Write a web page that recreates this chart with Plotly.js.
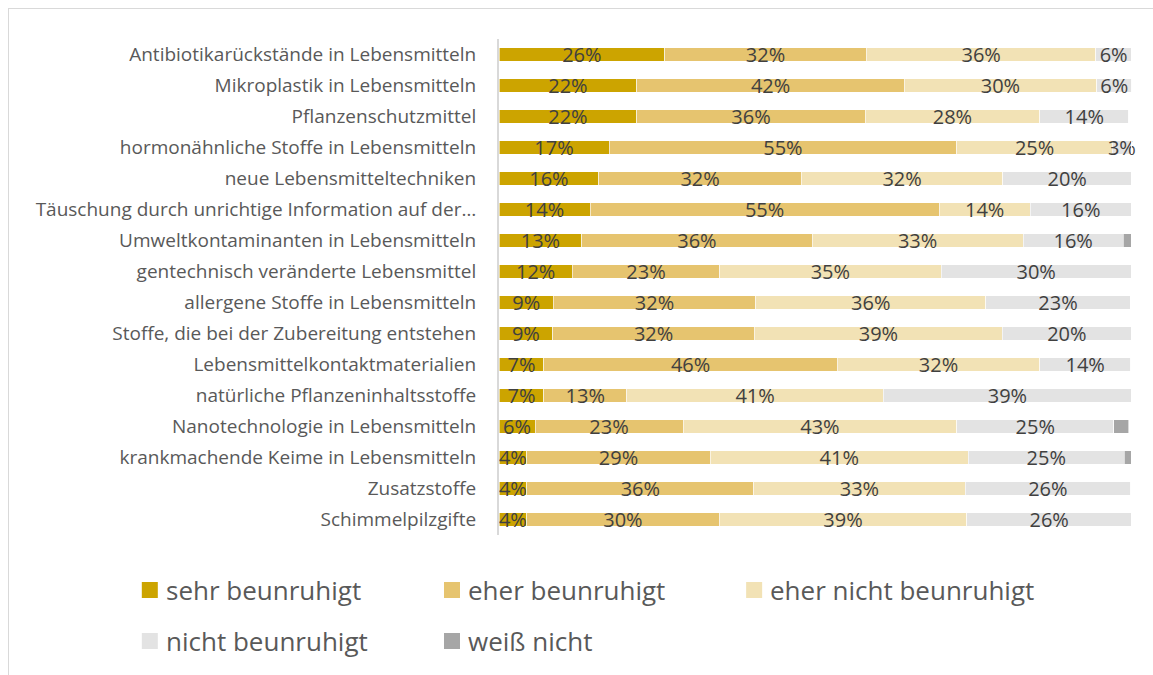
<!DOCTYPE html>
<html>
<head>
<meta charset="utf-8">
<script src="https://cdn.plot.ly/plotly-3.0.1.min.js"></script>
<style>
  html, body { margin: 0; padding: 0; background: #ffffff; overflow: hidden; }
  #frame { position: absolute; left: 8px; top: 8px; width: 1200px; height: 720px; border: 1px solid #d9d9d9; box-sizing: border-box; }
  #chart { position: absolute; left: 0; top: 0; width: 1153px; height: 675px; }
</style>
</head>
<body>
<div id="frame"></div>
<div id="chart"></div>
<script>
// Categories (top to bottom)
const categories = [
  "Antibiotikarückstände in Lebensmitteln",
  "Mikroplastik in Lebensmitteln",
  "Pflanzenschutzmittel",
  "hormonähnliche Stoffe in Lebensmitteln",
  "neue Lebensmitteltechniken",
  "Täuschung durch unrichtige Information auf der…",
  "Umweltkontaminanten in Lebensmitteln",
  "gentechnisch veränderte Lebensmittel",
  "allergene Stoffe in Lebensmitteln",
  "Stoffe, die bei der Zubereitung entstehen",
  "Lebensmittelkontaktmaterialien",
  "natürliche Pflanzeninhaltsstoffe",
  "Nanotechnologie in Lebensmitteln",
  "krankmachende Keime in Lebensmitteln",
  "Zusatzstoffe",
  "Schimmelpilzgifte"
];

// Series values (percent)
const sehrBeunruhigt      = [26.2, 21.8, 21.8, 17.4, 15.8, 14.4, 13.1, 11.6, 8.6, 8.5, 7.1, 7.1, 5.7, 4.4, 4.4, 4.4];
const eherBeunruhigt      = [31.9, 42.3, 36.1, 55.0, 32.0, 55.2, 36.4, 23.3, 32.0, 31.9, 46.4, 13.1, 23.4, 29.0, 35.9, 30.4];
const eherNichtBeunruhigt = [36.3, 30.4, 27.6, 24.6, 31.9, 14.4, 33.4, 35.0, 36.4, 39.2, 32.0, 40.6, 43.3, 40.8, 33.4, 39.2];
const nichtBeunruhigt     = [5.6, 5.6, 14.1, 3.0, 20.3, 16.0, 15.8, 30.1, 22.8, 20.4, 14.4, 39.2, 24.8, 24.7, 26.2, 26.0];
const weissNicht          = [0, 0, 0, 0, 0, 0, 1.3, 0, 0, 0, 0, 0, 2.4, 1.1, 0, 0];

const seriesNames  = ["sehr beunruhigt", "eher beunruhigt", "eher nicht beunruhigt", "nicht beunruhigt", "weiß nicht"];
const seriesValues = [sehrBeunruhigt, eherBeunruhigt, eherNichtBeunruhigt, nichtBeunruhigt, weissNicht];
const seriesColors = ["#CCA400", "#E6C46F", "#F2E2B5", "#E3E3E3", "#A6A6A6"];
const showLabels   = [true, true, true, true, false];

const W = 1153, H = 675;
const XMAX = 102;               // axis range a bit beyond 100 so full bars stay in range
const L = 499, T = 39, B = 140;
const pw100 = 632;              // pixels covered by 100 %
const pw = pw100 * XMAX / 100;
const R = W - L - pw;
const ph = H - T - B;
const px2x = p => (p - L) / pw;
const py2y = p => (H - B - p) / ph;

const traces = seriesNames.map((name, i) => ({
  type: 'bar',
  orientation: 'h',
  name: name,
  x: seriesValues[i],
  y: categories,
  marker: { color: seriesColors[i], line: { color: '#ffffff', width: 0.6 } },
  text: showLabels[i] ? seriesValues[i].map(v => Math.round(v) + '%') : undefined,
  texttemplate: showLabels[i] ? '%{text}' : undefined,
  textinfo: showLabels[i] ? undefined : 'none',
  textposition: showLabels[i] ? 'inside' : 'none',
  insidetextanchor: 'middle',
  constraintext: 'none',
  cliponaxis: false,
  textfont: { family: 'Open Sans, sans-serif', size: 20, color: '#404040' },
  hoverinfo: 'skip',
  showlegend: false
}));

// Custom legend (two rows, three columns)
const legCols = [142, 444, 746];
const legRows = [590, 641];
const shapes = [];
const annotations = [];
seriesNames.forEach((name, i) => {
  const cx = legCols[i % 3];
  const cy = legRows[Math.floor(i / 3)];
  shapes.push({
    type: 'rect', xref: 'paper', yref: 'paper',
    x0: px2x(cx), x1: px2x(cx + 16),
    y0: py2y(cy + 8), y1: py2y(cy - 8),
    fillcolor: seriesColors[i], line: { width: 0 }
  });
  annotations.push({
    xref: 'paper', yref: 'paper',
    x: px2x(cx + 22), y: py2y(cy),
    xanchor: 'left', yanchor: 'middle',
    text: name, showarrow: false,
    font: { family: 'Open Sans, sans-serif', size: 26, color: '#595959' }
  });
});

const layout = {
  width: W, height: H,
  margin: { l: L, r: R, t: T, b: B, pad: 0 },
  paper_bgcolor: 'rgba(0,0,0,0)',
  plot_bgcolor: 'rgba(0,0,0,0)',
  barmode: 'stack',
  bargap: 0.55,
  showlegend: false,
  xaxis: { range: [0, XMAX], visible: false, fixedrange: true },
  yaxis: {
    type: 'category',
    autorange: 'reversed',
    showline: true, linecolor: '#d9d9d9', linewidth: 2,
    showgrid: false, zeroline: false, ticks: '',
    ticklabelstandoff: 17,
    tickfont: { family: 'Open Sans, sans-serif', size: 19, color: '#595959' },
    fixedrange: true
  },
  shapes: shapes,
  annotations: annotations
};

Plotly.newPlot('chart', traces, layout, { displayModeBar: false, staticPlot: true });
</script>
</body>
</html>
